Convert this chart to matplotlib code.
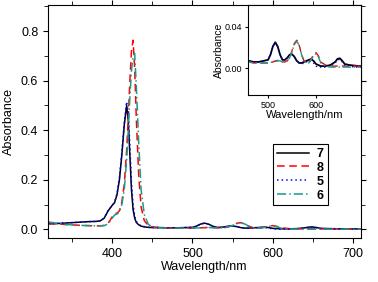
import matplotlib
matplotlib.use('Agg')
import matplotlib.pyplot as plt
from matplotlib.ticker import MultipleLocator

plt.rcParams['font.family'] = ['Liberation Sans', 'DejaVu Sans']

# wavelength grid (nm)
wl = [320, 330, 340, 350, 360, 370, 380, 385, 390, 395, 400, 403, 406, 409, 412, 415, 418,
      420, 422, 424, 426, 428, 430, 433, 436, 440, 445, 450,
      460, 470, 480, 490, 500,
      505, 510, 515, 520, 525, 530, 535, 540, 545, 550, 555, 560, 565, 570, 575, 580, 585,
      590, 595, 600, 605, 610,
      620, 630, 640, 645, 650, 655, 660, 670, 680, 690, 700, 710]

s7 = [.022, .023, .025, .027, .029, .031, .032, .034, .045, .075, .097, .108, .14, .20, .30, .42, .50,
      .44, .30, .16, .08, .045, .028, .018, .013, .010, .008, .007,
      .007, .006, .006, .007, .008,
      .013, .021, .025, .021, .013, .008, .008, .010, .013, .0135, .011, .007, .005, .005, .006, .007, .008,
      .0088, .007, .004, .003, .002,
      .002, .003, .006, .009, .0095, .007, .004, .003, .0025, .002, .002, .002]

s8 = [.025, .022, .020, .018, .016, .015, .014, .014, .016, .025, .050, .064, .065, .075, .11, .18, .32,
      .45, .60, .72, .763, .65, .45, .22, .09, .035, .015, .010,
      .006, .005, .005, .005, .005,
      .0055, .006, .007, .0075, .007, .006, .006, .007, .010, .017, .024, .027, .022, .013, .007, .0055, .006,
      .009, .013, .015, .012, .006,
      .003, .002, .002, .002, .002, .002, .002, .002, .002, .002, .002, .002]

s5 = [.024, .024, .026, .027, .029, .031, .032, .034, .046, .078, .095, .110, .145, .21, .31, .43, .515,
      .47, .34, .19, .10, .055, .032, .020, .014, .011, .008, .007,
      .007, .006, .006, .007, .008,
      .013, .021, .025, .021, .013, .008, .008, .010, .013, .0135, .011, .007, .005, .004, .005, .006, .007,
      .007, .005, .002, .001, .001,
      .001, .002, .005, .008, .0085, .006, .003, .002, .001, .001, .001, .001]

s6 = [.030, .025, .020, .018, .016, .015, .014, .014, .015, .022, .045, .058, .062, .070, .10, .16, .28,
      .40, .53, .64, .70, .71, .58, .35, .16, .06, .02, .010,
      .006, .005, .005, .005, .005,
      .0055, .006, .0065, .007, .007, .006, .006, .007, .010, .016, .023, .026, .022, .013, .007, .005, .005,
      .008, .012, .014, .011, .005,
      .002, .001, .001, .001, .001, .001, .001, .001, .001, .001, .001, .001]

labels = ['7', '8', '5', '6']
series = [s7, s8, s5, s6]
colors = ['black', 'red', 'blue', '#1a9a8a']
styles = ['-', (0, (5, 3)), (0, (1, 2)), (0, (6, 2, 1, 2))]

fig = plt.figure(figsize=(3.78, 2.82), dpi=100)
ax = fig.add_axes([0.127, 0.156, 0.828, 0.826])
for y, lab, c, ls in zip(series, labels, colors, styles):
    ax.plot(wl, y, color=c, ls=ls, lw=1.1, label=lab)
ax.set_xlim(320, 710)
ax.set_ylim(-0.035, 0.905)
ax.xaxis.set_major_locator(MultipleLocator(100))
ax.xaxis.set_minor_locator(MultipleLocator(50))
ax.yaxis.set_major_locator(MultipleLocator(0.2))
ax.yaxis.set_minor_locator(MultipleLocator(0.1))
ax.tick_params(which='both', direction='out', top=True, right=True, labelsize=9)
ax.tick_params(which='major', length=3.5)
ax.tick_params(which='minor', length=3)
ax.set_xticks([400, 500, 600, 700])
ax.set_yticks([0.0, 0.2, 0.4, 0.6, 0.8])
ax.set_yticklabels(['0.0', '0.2', '0.4', '0.6', '0.8'])
ax.set_xlabel('Wavelength/nm', fontsize=9, labelpad=1)
ax.set_ylabel('Absorbance', fontsize=9, labelpad=4)

leg = ax.legend(loc='upper left', bbox_to_anchor=(0.719, 0.403), borderaxespad=0,
                fancybox=False, framealpha=1, edgecolor='black', handlelength=2.6,
                labelspacing=0.15, borderpad=0.3, handletextpad=0.6,
                prop={'weight': 'bold', 'size': 9})
leg.get_frame().set_linewidth(0.8)

ins = fig.add_axes([0.656, 0.663, 0.299, 0.319])
for y, lab, c, ls in zip(series, labels, colors, styles):
    ins.plot(wl, y, color=c, ls=ls, lw=1.3 if lab == '7' else 1.0)
ins.set_xlim(458, 694)
ins.set_ylim(-0.026, 0.061)
ins.set_xticks([500, 600])
ins.set_yticks([0.00, 0.04])
ins.set_yticklabels(['0.00', '0.04'])
ins.tick_params(direction='out', length=2.5, labelsize=6.5, pad=1.5)
ins.set_xlabel('Wavelength/nm', fontsize=8, labelpad=0)
ins.set_ylabel('Absorbance', fontsize=7.5, labelpad=1)

fig.savefig('out.png', dpi=100)
